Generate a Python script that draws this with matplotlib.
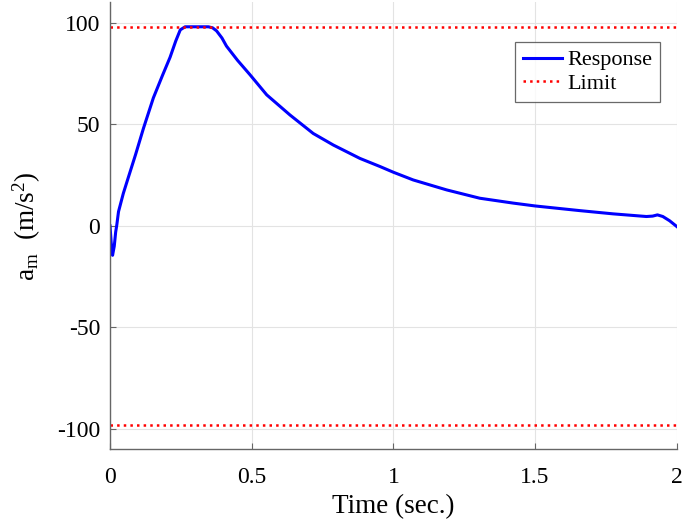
import matplotlib
matplotlib.use('Agg')
import matplotlib.pyplot as plt

plt.rcParams['font.family'] = 'Liberation Serif'
plt.rcParams['mathtext.fontset'] = 'custom'
plt.rcParams['mathtext.rm'] = 'Liberation Serif'
plt.rcParams['mathtext.it'] = 'Liberation Serif'
plt.rcParams['axes.unicode_minus'] = False

# response
time = [0.0, 0.004, 0.009, 0.015, 0.02, 0.024, 0.03, 0.047, 0.065, 0.09,
        0.118, 0.153, 0.185, 0.212, 0.232, 0.248, 0.265, 0.30, 0.347, 0.362,
        0.376, 0.395, 0.411, 0.45, 0.494, 0.553, 0.635, 0.717, 0.788, 0.882,
        0.953, 1.0, 1.07, 1.188, 1.305, 1.423, 1.5, 1.658, 1.776, 1.893,
        1.915, 1.932, 1.951, 1.975, 2.0]
accel = [0.0, -8.0, -14.5, -10.0, -3.0, 0.5, 7.0, 16.0, 24.0, 35.0,
         48.0, 63.0, 74.0, 83.0, 91.0, 96.5, 98.0, 98.0, 98.0, 97.5,
         96.0, 92.5, 88.5, 81.5, 74.4, 64.5, 54.6, 45.5, 39.8, 33.2,
         29.2, 26.4, 22.6, 17.7, 13.6, 11.2, 9.8, 7.5, 5.9, 4.6,
         4.8, 5.4, 4.6, 2.5, -0.3]
limit = 98

fig = plt.figure(figsize=(6.85, 5.25), dpi=100)
ax = fig.add_axes([0.1606, 0.1442, 0.8273, 0.8512])

ax.plot(time, accel, color='#0000ff', lw=2.2, label='Response')
ax.axhline(limit, color='#ff0000', ls=':', lw=1.8, label='Limit')
ax.axhline(-limit, color='#ff0000', ls=':', lw=1.8)

ax.set_xlim(0, 2)
ax.set_ylim(-110, 110)
ax.set_xticks([0, 0.5, 1, 1.5, 2])
ax.set_xticklabels(['0', '0.5', '1', '1.5', '2'])
ax.set_yticks([-100, -50, 0, 50, 100])
ax.grid(True, color='#e3e3e3', lw=0.8)
ax.set_axisbelow(True)
for s in ['top', 'right']:
    ax.spines[s].set_visible(False)
for s in ['left', 'bottom']:
    ax.spines[s].set_color('#666666')
    ax.spines[s].set_linewidth(1.0)
ax.tick_params(direction='in', length=4, width=0.8, color='#666666',
               labelsize=17)
ax.tick_params(axis='x', pad=13)
ax.tick_params(axis='y', pad=7)

ax.set_xlabel('Time (sec.)', fontsize=19.5, labelpad=4)
ax.set_ylabel(r'a$_{\mathrm{m}}$  (m/s$^{2}$)', fontsize=19.5, labelpad=10)

leg = ax.legend(loc='upper right', bbox_to_anchor=(0.9705, 0.9115), fontsize=16,
                frameon=True, fancybox=False, handlelength=1.75,
                handletextpad=0.25, borderpad=0.35, labelspacing=0.15,
                borderaxespad=0)
leg.get_frame().set_edgecolor('#444444')
leg.get_frame().set_linewidth(0.9)

fig.savefig('out.png', dpi=100)
